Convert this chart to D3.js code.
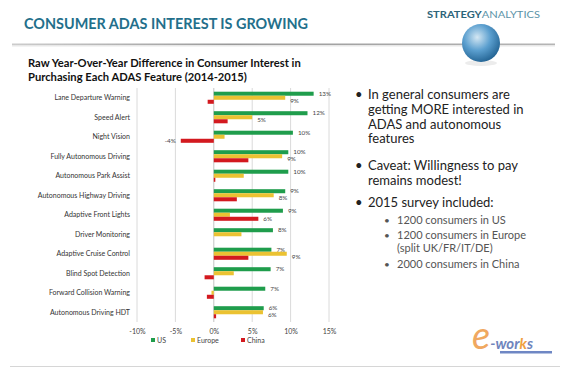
<!DOCTYPE html>
<html>
<head>
<meta charset="utf-8">
<script src="https://cdn.jsdelivr.net/npm/d3@7"></script>
<style>
  body { margin: 0; background: #fff; }
  text { font-family: Lato, "Open Sans", sans-serif; }
</style>
</head>
<body>
<div id="chart"></div>
<script>
// data
var categories = ["Lane Departure Warning", "Speed Alert", "Night Vision", "Fully Autonomous Driving",
    "Autonomous Park Assist", "Autonomous Highway Driving", "Adaptive Front Lights", "Driver Monitoring",
    "Adaptive Cruise Control", "Blind Spot Detection", "Forward Collision Warning", "Autonomous Driving HDT"];
var usValues = [13.0, 12.2, 10.3, 9.7, 9.7, 9.3, 9.0, 7.7, 7.5, 7.4, 6.7, 6.5];
var europeValues = [9.3, 5.0, 1.4, 8.9, 3.9, 7.8, 2.1, 3.6, 9.5, 2.6, -0.3, 6.4];
var chinaValues = [-0.8, 1.8, -4.3, 4.5, 0.2, 3.0, 5.8, 0.0, 4.5, -1.2, -0.9, 0.3];
var usLabels = ["13%", "12%", "10%", "10%", "10%", "9%", "9%", "8%", "7%", "7%", "7%", "6%"];
var europeLabels = ["9%", "5%", null, "9%", null, "8%", null, null, "9%", null, null, "6%"];
var chinaLabels = [null, null, "-4%", null, null, null, "6%", null, null, null, null, null];
var seriesNames = ["US", "Europe", "China"];
var tickValues = [-10, -5, 0, 5, 10, 15];
var bullets = [
    ["In general consumers are", "getting MORE interested in", "ADAS and autonomous", "features"],
    ["Caveat: Willingness to pay", "remains modest!"],
    ["2015 survey included:"]
];
var subBullets = [
    ["1200 consumers in US"],
    ["1200 consumers in Europe", "(split UK/FR/IT/DE)"],
    ["2000 consumers in China"]
];

var colors = {US: "#1f9d4c", Europe: "#ebc232", China: "#d3191f"};

var svg = d3.select("#chart").append("svg")
    .attr("width", 565)
    .attr("height", 368);

var defs = svg.append("defs");
var lineGrad = defs.append("linearGradient").attr("id", "sepGrad");
lineGrad.append("stop").attr("offset", "0%").attr("stop-color", "#ccc");
lineGrad.append("stop").attr("offset", "40%").attr("stop-color", "#9a9a9a");
lineGrad.append("stop").attr("offset", "100%").attr("stop-color", "#b5b5b5");
var globeGrad = defs.append("radialGradient").attr("id", "globeGrad")
    .attr("cx", "40%").attr("cy", "35%").attr("r", "70%");
globeGrad.append("stop").attr("offset", "0%").attr("stop-color", "#d4e7f3");
globeGrad.append("stop").attr("offset", "50%").attr("stop-color", "#5b9fcf");
globeGrad.append("stop").attr("offset", "100%").attr("stop-color", "#1f5f8f");

// header
svg.append("text")
    .attr("x", 24).attr("y", 29)
    .attr("font-size", 16).attr("font-weight", "bold")
    .attr("fill", "#236f8b")
    .attr("textLength", 284).attr("lengthAdjust", "spacingAndGlyphs")
    .text("CONSUMER ADAS INTEREST IS GROWING");

svg.append("rect")
    .attr("x", 12).attr("y", 43.5).attr("width", 543).attr("height", 1.5)
    .attr("fill", "url(#sepGrad)");
svg.append("rect")
    .attr("x", 12).attr("y", 45).attr("width", 543).attr("height", 1.5)
    .attr("fill", "#e8e8e8");

var logo = svg.append("text")
    .attr("x", 427).attr("y", 18)
    .attr("font-size", 9.5)
    .attr("textLength", 113).attr("lengthAdjust", "spacingAndGlyphs");
logo.append("tspan").attr("font-weight", "bold").attr("fill", "#2d6479").text("STRATEGY");
logo.append("tspan").attr("fill", "#5c93a8").text("ANALYTICS");

svg.append("ellipse").attr("cx", 481).attr("cy", 63).attr("rx", 16).attr("ry", 3)
    .attr("fill", "#ececec");
svg.append("circle").attr("cx", 481).attr("cy", 43).attr("r", 19)
    .attr("fill", "url(#globeGrad)");

// subtitle
svg.append("text")
    .attr("font-size", 11.2).attr("font-weight", "bold").attr("fill", "#111")
    .selectAll("tspan")
    .data(["Raw Year-Over-Year Difference in Consumer Interest in", "Purchasing Each ADAS Feature (2014-2015)"])
    .enter().append("tspan")
    .attr("x", 28)
    .attr("y", function(d, i) { return 67 + i * 14; })
    .text(function(d) { return d; });

// chart scales
var xScale = d3.scaleLinear().domain([-10, 15]).range([137, 329]);
var yScale = d3.scaleBand().domain(categories).range([88, 322])
    .paddingInner(0.38).paddingOuter(0.19);
var subScale = d3.scaleBand().domain(seriesNames).range([0, yScale.bandwidth()]);

// gridlines
svg.append("g").selectAll("line")
    .data(tickValues)
    .enter().append("line")
    .attr("x1", function(d) { return xScale(d); })
    .attr("x2", function(d) { return xScale(d); })
    .attr("y1", 88).attr("y2", 322)
    .attr("stroke", function(d) { return d === 0 ? "#c4c4c4" : "#dadada"; })
    .attr("stroke-width", 1);

// x axis
var xAxis = svg.append("g")
    .attr("transform", "translate(0,322)")
    .call(d3.axisBottom(xScale).tickValues(tickValues).tickSize(0).tickPadding(7)
        .tickFormat(function(d) { return d + "%"; }));
xAxis.select(".domain").remove();
xAxis.selectAll("text").attr("font-family", "Lato, sans-serif").attr("font-size", 7).attr("fill", "#444");

// y axis
var yAxis = svg.append("g")
    .attr("transform", "translate(130,0)")
    .call(d3.axisLeft(yScale).tickSize(0).tickPadding(0));
yAxis.select(".domain").remove();
yAxis.selectAll("text").attr("font-family", "Lato, sans-serif").attr("font-size", 7).attr("fill", "#333");

// bars
var seriesData = [
    {name: "US", values: usValues, labels: usLabels, dy: 2.2},
    {name: "Europe", values: europeValues, labels: europeLabels, dy: 4.8},
    {name: "China", values: chinaValues, labels: chinaLabels, dy: 2.3}
];

seriesData.forEach(function(s) {
    var rows = categories.map(function(c, i) {
        return {cat: c, value: s.values[i], label: s.labels[i]};
    });
    var g = svg.append("g");
    g.selectAll("rect")
        .data(rows)
        .enter().append("rect")
        .attr("x", function(d) { return xScale(Math.min(0, d.value)); })
        .attr("y", function(d) { return yScale(d.cat) + subScale(s.name); })
        .attr("width", function(d) { return Math.abs(xScale(d.value) - xScale(0)); })
        .attr("height", subScale.bandwidth())
        .attr("fill", colors[s.name]);
    g.selectAll("text")
        .data(rows.filter(function(d) { return d.label; }))
        .enter().append("text")
        .attr("x", function(d) { return d.value < 0 ? xScale(d.value) - 5 : xScale(d.value) + 5; })
        .attr("y", function(d) { return yScale(d.cat) + subScale(s.name) + subScale.bandwidth() / 2 + s.dy; })
        .attr("text-anchor", function(d) { return d.value < 0 ? "end" : "start"; })
        .attr("font-size", 6.3)
        .attr("fill", "#444")
        .text(function(d) { return d.label; });
});

// legend
var legendX = d3.scaleOrdinal().domain(seriesNames).range([151, 191, 241]);
var legend = svg.append("g").selectAll("g")
    .data(seriesNames)
    .enter().append("g")
    .attr("transform", function(d) { return "translate(" + legendX(d) + ",342)"; });
legend.append("rect")
    .attr("x", 0).attr("y", -4).attr("width", 4).attr("height", 4)
    .attr("fill", function(d) { return colors[d]; });
legend.append("text")
    .attr("x", 6).attr("y", 0.5)
    .attr("font-size", 7).attr("fill", "#444")
    .text(function(d) { return d; });

// bullet text on the right
var bulletTops = [99, 170, 207];
bullets.forEach(function(lines, i) {
    svg.append("text").attr("x", 355).attr("y", bulletTops[i]).attr("font-size", 13).attr("fill", "#222").text("•");
    lines.forEach(function(line, j) {
        svg.append("text").attr("x", 368).attr("y", bulletTops[i] + j * 14.8)
            .attr("font-size", 13).attr("fill", "#222").text(line);
    });
});
var subTops = [224, 239, 268];
subBullets.forEach(function(lines, i) {
    svg.append("text").attr("x", 384).attr("y", subTops[i]).attr("font-size", 10).attr("fill", "#555").text("•");
    lines.forEach(function(line, j) {
        svg.append("text").attr("x", 397).attr("y", subTops[i] + j * 13)
            .attr("font-size", 11).attr("fill", "#555").text(line);
    });
});

// watermark + footer line
svg.append("rect").attr("x", 500).attr("y", 351).attr("width", 52).attr("height", 2.5).attr("fill", "#6f87c4");
var wm = svg.append("text").attr("x", 472).attr("y", 349)
    .attr("font-family", "DejaVu Serif, serif").attr("font-style", "italic");
wm.append("tspan").attr("font-size", 38).attr("fill", "#f0a860").attr("font-family", "Lato, sans-serif").text("e");
wm.append("tspan").attr("font-size", 15).attr("fill", "#6f85bd").attr("font-weight", "bold").text("-wor");
wm.append("tspan").attr("font-size", 15).attr("fill", "#f0a040").attr("font-weight", "bold").text("k");
wm.append("tspan").attr("font-size", 15).attr("fill", "#6f85bd").attr("font-weight", "bold").text("s");
svg.append("line").attr("x1", 10).attr("x2", 560).attr("y1", 366.5).attr("y2", 366.5)
    .attr("stroke", "#d6d6d6").attr("stroke-width", 1);
</script>
</body>
</html>
